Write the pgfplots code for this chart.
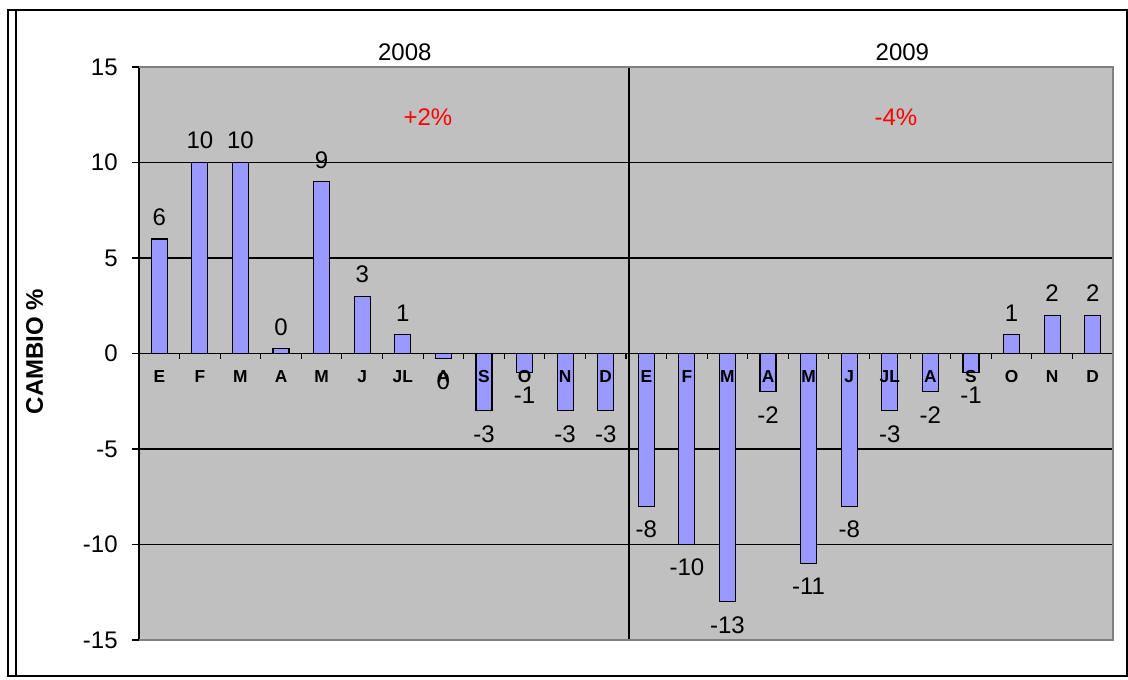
\documentclass[border=0pt]{standalone}
\usepackage{fontspec}
\setmainfont{Liberation Sans}
\usepackage{pgfplots}
\pgfplotsset{compat=1.18}

\definecolor{plotbg}{HTML}{C0C0C0}
\definecolor{barblue}{HTML}{9999FF}
\definecolor{edgegray}{HTML}{808080}

\begin{document}
\begin{tikzpicture}[x=0.75pt,y=0.75pt]
% page = 1128 x 679 px, origin at the lower left corner of the plot area
\draw[black, line width=1.5pt] (-131,-36) rectangle (988,630);
\draw[black, line width=1.2pt] (-123,-36) -- (-123,630);

\begin{axis}[
  set layers,
  at={(0,0)}, anchor=south west,
  scale only axis,
  width=730.5pt, height=429.75pt,
  ybar, bar width=12pt,
  xmin=-0.5, xmax=23.5,
  ymin=-15, ymax=15,
  axis x line=middle,
  axis y line=left,
  x axis line style={-, black, line width=1pt},
  y axis line style={-, black, line width=1pt},
  axis background/.style={fill=plotbg},
  xtick={0,...,23},
  xticklabels={E,F,M,A,M,J,JL,A,S,O,N,D,E,F,M,A,M,J,JL,A,S,O,N,D},
  xticklabel style={font=\fontsize{13}{14}\selectfont\bfseries, yshift=-4.5pt},
  major x tick style={draw=none},
  minor xtick={-0.5,0.5,...,23.5},
  minor x tick style={black, line width=0.8pt},
  minor tick length=3.75pt,
  xtick align=outside,
  ytick={-15,-10,...,15},
  ytick align=outside,
  major tick length=5pt,
  y tick style={black, line width=0.8pt},
  yticklabel style={font=\fontsize{18}{20}\selectfont, xshift=-7.5pt},
  /pgf/number format/assume math mode=true,
  ymajorgrids,
  y grid style={black, line width=0.9pt},
  ylabel={CAMBIO \%},
  ylabel style={font=\fontsize{18}{20}\selectfont\bfseries,
    at={(axis description cs:-0.1073,0.5035)}, anchor=center},
  clip=false,
  point meta=explicit symbolic,
]
\draw[black, line width=1.1pt] (axis cs:11.575,-15) -- (axis cs:11.575,15);

% bars go on a layer under the month names, as in the reference
% months with a rise (and the tiny +0.25)
\addplot[on layer=axis ticks, fill=barblue, draw=black, line width=0.9pt,
  bar shift=0pt, nodes near coords,
  every node near coord/.append style={font=\fontsize{18}{20}\selectfont,
    black, line width=0pt, inner ysep=10pt, anchor=south}]
coordinates {
  (0,6) [6]
  (1,10) [10]
  (2,10) [10]
  (3,0.25) [0]
  (4,9) [9]
  (5,3) [3]
  (6,1) [1]
  (21,1) [1]
  (22,2) [2]
  (23,2) [2]
};

% months with a fall (and the tiny -0.25)
\addplot[on layer=axis ticks, fill=barblue, draw=black, line width=0.9pt,
  bar shift=0pt, nodes near coords,
  every node near coord/.append style={font=\fontsize{18}{20}\selectfont,
    black, line width=0pt, inner ysep=11pt, anchor=north}]
coordinates {
  (7,-0.25) [0]
  (8,-3) [-3]
  (9,-1) [-1]
  (10,-3) [-3]
  (11,-3) [-3]
  (12,-8) [-8]
  (13,-10) [-10]
  (14,-13) [-13]
  (15,-2) [-2]
  (16,-11) [-11]
  (17,-8) [-8]
  (18,-3) [-3]
  (19,-2) [-2]
  (20,-1) [-1]
};

\draw[edgegray, line width=1.5pt] (rel axis cs:0,1) -- (rel axis cs:1,1)
  -- (rel axis cs:1,0) -- (rel axis cs:0,0);

\node[font=\fontsize{18}{20}\selectfont] at (axis cs:6.05,15.78) {2008};
\node[font=\fontsize{18}{20}\selectfont] at (axis cs:18.31,15.78) {2009};
\node[font=\fontsize{18}{20}\selectfont, red] at (axis cs:6.62,12.38) {+2\%};
\node[font=\fontsize{18}{20}\selectfont, red] at (axis cs:18.15,12.38) {-4\%};
\end{axis}
\useasboundingbox (-139,-39) rectangle (989,640);
\end{tikzpicture}
\end{document}
